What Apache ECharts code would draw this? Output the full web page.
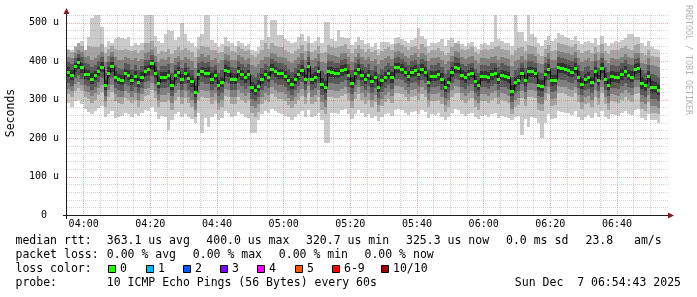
<!DOCTYPE html>
<html><head><meta charset="utf-8">
<script src="https://cdn.jsdelivr.net/npm/echarts@6/dist/echarts.min.js"></script>
<style>html,body{margin:0;padding:0;background:#fff;}#c{width:697px;height:297px;}</style>
</head><body><div id="c"></div>
<script>
// time axis: minutes after 03:55, one column per minute
const xLabelMinutes = [5,25,45,65,85,105,125,145,165];
const xLabels = ['04:00','04:20','04:40','05:00','05:20','05:40','06:00','06:20','06:40'];
const yTickValues = [0,100,200,300,400,500];
const yTickLabels = ['0  ','100 u','200 u','300 u','400 u','500 u'];
const Y_MAX = 520;

// median rtt (us) per minute
const median = [
372,364,387,398,384,366,366,354,363,375, 385,337,370,387,360,354,351,370,365,351,
362,346,360,375,379,394,370,344,360,360, 365,338,365,372,353,370,356,348,320,367,
375,370,370,354,363,339,346,377,374,354, 354,374,366,358,366,332,325,335,353,366,
360,380,374,368,368,361,351,341,353,366, 377,353,387,353,360,374,341,332,374,373,
370,370,377,380,363,344,368,380,365,354, 365,348,360,333,350,360,368,358,385,384,
380,372,361,373,377,366,380,373,346,361, 361,366,354,333,346,372,385,382,363,358,
366,370,348,339,361,361,358,366,370,354, 365,361,358,323,346,351,370,350,374,374,
370,339,335,366,380,350,351,385,382,380, 377,372,382,360,341,353,358,346,374,351,
382,354,339,361,360,358,366,374,363,360, 380,382,343,337,361,333,332,325];

// smoke envelopes (us): band 1 = outermost (min/max), band 5 = innermost
const hi1 = [
432,428,440,446,452,430,464,512,520,520, 489,438,452,446,458,462,460,458,462,440,
448,442,446,520,520,520,466,452,448,470, 480,478,456,462,499,470,452,448,436,462,
470,520,520,456,448,438,444,462,452,446, 440,452,446,440,444,430,426,438,454,520,
462,507,507,468,468,458,452,446,450,462, 470,452,466,446,452,462,448,503,503,458,
452,481,462,460,460,442,450,462,456,444, 448,438,446,432,450,450,450,444,460,462,
458,452,446,455,460,486,466,458,440,448, 446,450,458,440,456,460,446,452,444,440,
446,450,438,432,444,448,442,450,520,458, 452,448,446,440,520,476,476,452,520,470,
462,446,440,456,466,452,458,473,468,462, 460,456,466,452,444,450,452,446,460,442,
466,446,440,447,452,450,456,460,470,470, 462,464,446,440,452,436,432,428];
const lo1 = [
290,282,296,300,288,276,268,262,270,278, 284,256,262,270,252,254,258,266,262,256,
262,258,264,272,270,282,268,250,258,254, 221,248,262,268,256,262,254,250,240,264,
213,252,229,256,262,248,252,270,266,256, 258,268,262,256,252,214,214,248,262,270,
264,276,270,266,262,258,254,248,256,262, 270,256,274,254,258,266,248,187,187,264,
266,262,272,276,262,250,262,272,264,256, 262,252,258,244,254,262,266,258,274,276,
272,266,260,268,270,262,274,268,252,262, 260,264,256,248,254,266,276,272,262,258,
262,266,254,250,258,260,256,262,264,252, 258,254,252,247,254,258,208,250,229,254,
252,240,200,238,262,250,252,270,268,266, 264,260,270,256,248,256,260,252,266,254,
270,256,250,262,260,258,264,270,262,260, 274,276,252,248,262,246,246,240];
const hi2 = [
428,424,436,446,440,430,440,438,436,436, 444,420,432,440,432,428,430,432,428,426,
428,422,428,446,448,452,436,418,426,424, 432,418,428,436,428,434,428,424,410,432,
440,436,438,428,430,420,424,440,436,426, 424,436,432,426,428,416,412,418,430,446,
432,448,440,436,436,430,424,418,426,432, 442,426,446,424,430,440,420,424,442,436,
434,436,440,444,432,420,432,442,432,424, 432,424,428,416,426,432,436,428,444,446,
442,436,430,436,440,432,444,436,422,430, 430,434,426,416,422,436,446,444,432,428,
432,436,424,418,430,432,428,432,436,440, 432,430,428,416,430,434,436,426,442,440,
436,418,414,432,442,426,428,446,444,442, 440,436,444,430,420,426,430,422,438,424,
444,426,418,430,428,428,434,440,432,430, 442,444,420,416,430,414,412,410];
const lo2 = [
314,306,322,330,322,306,302,292,300,312, 320,280,306,320,296,290,288,304,300,290,
298,282,296,310,312,326,304,280,294,294, 298,274,300,306,288,304,290,282,256,300,
306,304,304,288,298,274,280,310,308,288, 288,308,300,292,300,266,256,268,288,300,
294,314,308,302,302,296,286,278,288,300, 310,288,318,288,294,308,274,262,306,308,
304,304,310,314,298,278,302,314,300,288, 300,282,294,268,284,294,302,292,318,318,
314,306,296,308,310,300,314,308,280,296, 296,300,288,268,280,306,318,316,298,292,
300,304,282,274,296,296,292,300,304,288, 298,296,292,262,280,286,304,284,308,308,
304,274,270,300,314,284,286,318,316,314, 310,306,316,294,276,288,292,280,308,286,
316,288,274,296,294,292,300,308,298,294, 314,316,276,270,294,266,266,262];
const hi3 = [
412,408,420,430,424,410,414,404,408,416, 424,398,414,424,410,404,402,410,408,404,
408,400,406,420,424,430,414,398,406,404, 410,396,408,414,404,412,406,400,382,410,
418,412,416,404,408,396,402,418,416,404, 402,416,410,404,408,390,384,392,404,412,
410,422,418,412,412,408,400,396,402,410, 420,404,426,402,408,418,398,394,418,416,
414,412,420,422,410,398,410,422,410,402, 410,400,406,392,402,408,414,406,424,426,
422,414,408,416,420,410,422,416,400,408, 408,412,404,392,400,414,426,424,410,406,
410,414,402,396,408,408,406,412,414,404, 412,408,406,388,400,404,414,402,418,418,
414,396,392,412,422,404,404,426,424,422, 420,416,424,408,398,404,408,400,418,402,
422,404,396,408,406,406,412,418,410,408, 420,422,396,392,408,390,388,386];
const lo3 = [
328,322,340,346,338,322,320,310,318,330, 338,296,324,338,314,308,306,322,318,306,
316,300,314,328,330,344,322,298,312,312, 316,292,318,324,306,322,308,300,272,318,
326,322,322,306,316,292,298,328,326,306, 306,326,318,310,318,284,278,288,306,318,
312,332,326,320,320,314,304,296,306,318, 328,306,336,306,312,326,294,282,326,326,
322,322,328,332,316,296,320,332,318,306, 318,300,312,286,302,312,320,310,336,336,
332,324,314,326,328,318,332,326,298,314, 314,318,306,286,298,324,336,334,316,310,
318,322,300,292,314,314,310,318,322,306, 316,314,310,276,298,304,322,302,326,326,
322,292,288,318,332,302,304,336,334,332, 328,324,334,312,294,306,310,298,326,304,
334,306,292,314,312,310,318,326,316,312, 332,334,294,288,312,284,284,278];
const hi4 = [
398,392,408,418,410,394,392,384,390,400, 410,370,398,410,390,382,380,394,392,380,
390,378,388,402,404,416,398,376,388,388, 392,370,390,398,382,396,386,378,356,394,
400,396,398,384,390,370,376,402,400,384, 382,400,392,386,392,364,358,368,382,392,
388,406,400,394,394,390,380,372,382,392, 404,382,410,382,388,400,374,366,400,400,
396,396,404,406,392,376,394,406,392,384, 392,378,388,366,380,388,394,388,408,410,
406,398,390,400,404,392,406,400,378,390, 390,394,384,366,378,398,410,408,392,388,
392,396,380,370,390,390,388,394,396,384, 394,390,388,358,378,382,396,382,400,400,
396,372,368,394,406,382,382,410,408,406, 404,400,408,390,374,384,388,378,400,382,
408,384,372,390,388,388,396,402,392,390, 406,408,376,368,390,366,364,360];
const lo4 = [
344,336,356,364,354,338,336,324,334,346, 356,310,340,356,330,324,322,340,336,322,
332,316,330,346,348,362,340,314,330,330, 334,310,336,342,324,340,326,318,290,336,
346,340,340,324,334,310,316,346,344,324, 324,344,336,328,336,302,296,306,324,336,
330,350,344,338,338,332,322,312,324,336, 346,324,356,324,330,344,312,300,344,344,
340,340,346,350,334,314,338,350,336,324, 336,318,330,304,320,330,338,328,354,354,
350,342,332,344,346,336,350,344,316,332, 332,336,324,304,316,342,354,352,334,328,
336,340,318,310,332,332,328,336,340,324, 334,332,328,294,316,322,340,320,344,344,
340,310,306,336,350,320,322,354,352,350, 346,342,352,330,312,324,328,316,344,322,
352,324,310,330,330,328,336,344,334,330, 350,352,312,306,330,302,302,296];
const hi5 = [
384,378,396,408,396,380,378,368,374,386, 398,352,384,398,374,366,364,380,378,364,
374,360,372,388,390,404,384,358,372,372, 378,352,376,384,366,382,370,362,336,380,
386,382,384,368,376,352,360,390,386,368, 366,386,378,370,378,346,340,350,366,378,
372,392,386,380,380,374,364,356,366,378, 390,366,398,366,372,386,356,348,386,386,
382,382,390,392,376,358,380,392,378,368, 378,362,372,348,364,372,380,372,396,396,
392,384,374,386,390,378,392,386,360,374, 374,378,368,348,360,384,396,394,376,372,
378,382,362,352,374,374,372,378,382,368, 378,374,372,338,360,364,382,364,386,386,
382,354,350,378,392,364,364,396,394,392, 390,384,394,374,356,366,372,360,386,364,
394,368,354,374,372,372,380,388,376,374, 392,394,358,350,374,348,346,340];
const lo5 = [
360,350,372,380,370,354,352,340,350,362, 372,324,356,372,346,340,338,356,352,338,
348,332,346,362,364,378,356,330,346,346, 350,326,352,358,340,356,342,334,306,352,
362,356,356,340,350,326,332,362,360,340, 340,360,352,344,352,318,312,322,340,352,
346,366,360,354,354,348,338,328,340,352, 362,340,372,340,346,360,328,318,360,360,
356,356,362,366,350,330,354,366,352,340, 352,334,346,320,336,346,354,344,370,370,
366,358,348,360,362,352,366,360,332,348, 348,352,340,320,332,358,370,368,350,344,
352,356,334,326,348,348,344,352,356,340, 350,348,344,310,332,338,356,336,360,360,
356,326,322,352,366,336,338,370,368,366, 362,358,368,346,328,340,344,332,360,338,
368,340,326,346,346,344,352,360,350,346, 366,368,328,322,346,318,318,312];

const lossColors = ['#26ff00','#00b8ff','#0059ff','#7e00ff','#ff00ff','#ff5500','#ff0000','#a10000'];
const lossLabels = ['0','1','2','3','4','5','6-9','10/10'];

const SHADES = ['#cacaca','#a4a4a4','#7e7e7e','#585858','#323232'];
const MONO = '"DejaVu Sans Mono", monospace';
const GRID_MINOR = 'rgba(143,143,143,0.38)';
const GRID_MAJOR = 'rgba(222,79,79,0.45)';

const smokeData = median.map((m, i) => [i, lo1[i], hi1[i], lo2[i], hi2[i], lo3[i], hi3[i], lo4[i], hi4[i], lo5[i], hi5[i]]);
const medData = median.map((m, i) => [i, m]);
const vGrid = []; for (let v = 5; v < 180; v += 5) vGrid.push([v, 0]);
const hGrid = []; for (let v = 20; v <= Y_MAX; v += 20) hGrid.push([0, v]);

function renderSmoke(params, api) {
  const i = api.value(0);
  const xa = Math.round(api.coord([i, 0])[0]);
  const xb = Math.round(api.coord([i + 1, 0])[0]);
  const children = [];
  for (let k = 0; k < 5; k++) {
    const lo = api.value(1 + 2 * k), hi = Math.min(api.value(2 + 2 * k), Y_MAX);
    const yt = Math.round(api.coord([i, hi])[1]);
    const yb = Math.round(api.coord([i, lo])[1]);
    children.push({type: 'rect', shape: {x: xa, y: yt, width: xb - xa, height: yb - yt}, style: {fill: SHADES[k]}});
  }
  return {type: 'group', children};
}
function renderMedian(params, api) {
  const i = api.value(0), m = api.value(1);
  const xa = Math.round(api.coord([i, 0])[0]);
  const xb = Math.round(api.coord([i + 1, 0])[0]);
  const y = Math.round(api.coord([i, m])[1]);
  const children = [];
  if (i > 0) {
    const yp = Math.round(api.coord([i, median[i - 1]])[1]);
    children.push({type: 'line', shape: {x1: xa + 0.5, y1: yp, x2: xa + 0.5, y2: y}, style: {stroke: '#000', lineWidth: 1}});
  }
  children.push({type: 'rect', shape: {x: xa, y: y - 1, width: xb - xa, height: 3}, style: {fill: lossColors[0]}});
  return {type: 'group', children};
}
function renderV(params, api) {
  const v = api.value(0);
  const x = Math.floor(api.coord([v, 0])[0]) + 0.5;
  const yb = api.coord([v, 0])[1], yt = api.coord([v, Y_MAX])[1];
  const major = (v - 5) % 20 === 0;
  return {type: 'line', shape: {x1: x, y1: yt, x2: x, y2: yb},
    style: {stroke: major ? GRID_MAJOR : GRID_MINOR, lineWidth: 1, lineDash: [1, 1]}};
}
function renderH(params, api) {
  const v = api.value(1);
  const y = Math.round(api.coord([0, v])[1]) + 0.5;
  const xl = api.coord([0, v])[0], xr = api.coord([180, v])[0] + 2;
  const major = v % 100 === 0;
  return {type: 'line', shape: {x1: xl, y1: y, x2: xr, y2: y},
    style: {stroke: major ? GRID_MAJOR : GRID_MINOR, lineWidth: 1, lineDash: [1, 1]}};
}

const graphics = [];
function txt(x, y, s, align) {
  graphics.push({type: 'text', x: x, y: y, silent: true,
    style: {text: s, font: '11.5px ' + MONO, fill: '#000', textAlign: align || 'left', textVerticalAlign: 'middle', verticalAlign: 'middle'}});
}
// axis lines & arrows
graphics.push({type: 'line', shape: {x1: 66.5, y1: 11, x2: 66.5, y2: 219}, style: {stroke: '#1f1f1f', lineWidth: 1}});
graphics.push({type: 'line', shape: {x1: 63, y1: 215.5, x2: 670, y2: 215.5}, style: {stroke: '#1f1f1f', lineWidth: 1}});
graphics.push({type: 'polygon', shape: {points: [[66.5, 8], [63.5, 14], [69.5, 14]]}, style: {fill: '#7f1f1f'}});
graphics.push({type: 'polygon', shape: {points: [[674, 215.5], [668, 212.5], [668, 218.5]]}, style: {fill: '#7f1f1f'}});
// titles
graphics.push({type: 'text', x: 11, y: 113, rotation: Math.PI / 2, silent: true,
  style: {text: 'Seconds', font: '11.5px ' + MONO, fill: '#000', textAlign: 'center', textVerticalAlign: 'middle', verticalAlign: 'middle'}});
graphics.push({type: 'text', x: 688, y: 60, rotation: -Math.PI / 2, silent: true,
  style: {text: 'RRDTOOL / TOBI OETIKER', font: '8.3px ' + MONO, fill: '#b4b4b4', textAlign: 'center', textVerticalAlign: 'middle', verticalAlign: 'middle'}});
// legend rows
txt(15.5, 241, 'median rtt:'); txt(106.8, 241, '363.1 us avg'); txt(206.3, 241, '400.0 us max');
txt(306, 241, '320.7 us min'); txt(406, 241, '325.3 us now'); txt(506, 241, '0.0 ms sd');
txt(585.5, 241, '23.8   am/s');
txt(15.5, 255, 'packet loss:'); txt(106.8, 255, '0.00 % avg'); txt(192.8, 255, '0.00 % max');
txt(278.8, 255, '0.00 % min'); txt(364.5, 255, '0.00 % now');
txt(15.5, 269, 'loss color:');
const boxX = [108, 145.5, 182.5, 220, 257, 294.5, 332, 380.5];
for (let k = 0; k < lossColors.length; k++) {
  graphics.push({type: 'rect', shape: {x: Math.round(boxX[k]) + 0.5, y: 265.5, width: 7, height: 7}, style: {fill: lossColors[k], stroke: '#000', lineWidth: 1}});
  txt(Math.round(boxX[k]) + 12, 269, lossLabels[k]);
}
txt(15.5, 283, 'probe:'); txt(106.8, 283, '10 ICMP Echo Pings (56 Bytes) every 60s');
txt(681, 283, 'Sun Dec  7 06:54:43 2025', 'right');

const chart = echarts.init(document.getElementById('c'), null, {renderer: 'canvas'});
chart.setOption({
  animation: false,
  backgroundColor: '#ffffff',
  grid: {left: 67, top: 15, width: 600, height: 200, containLabel: false},
  xAxis: {type: 'value', min: 0, max: 180,
    axisLine: {show: false}, axisTick: {show: false}, splitLine: {show: false},
    axisLabel: {customValues: xLabelMinutes, margin: 4, color: '#000', fontFamily: MONO, fontSize: 10,
      formatter: v => { const k = xLabelMinutes.indexOf(Math.round(v)); return k >= 0 ? xLabels[k] : ''; }}},
  yAxis: {type: 'value', min: 0, max: Y_MAX, interval: 100,
    axisLine: {show: false}, axisTick: {show: false}, splitLine: {show: false},
    axisLabel: {margin: 8, color: '#000', fontFamily: MONO, fontSize: 10, showMaxLabel: false,
      formatter: v => { const k = yTickValues.indexOf(v); return k >= 0 ? yTickLabels[k] : ''; }}},
  series: [
    {type: 'custom', name: 'smoke', renderItem: renderSmoke, data: smokeData, z: 1, silent: true},
    {type: 'custom', name: 'vgrid', renderItem: renderV, data: vGrid, z: 2, silent: true},
    {type: 'custom', name: 'hgrid', renderItem: renderH, data: hGrid, z: 2, silent: true},
    {type: 'custom', name: 'median', renderItem: renderMedian, data: medData, z: 3, silent: true}
  ],
  graphic: graphics
});
</script></body></html>
